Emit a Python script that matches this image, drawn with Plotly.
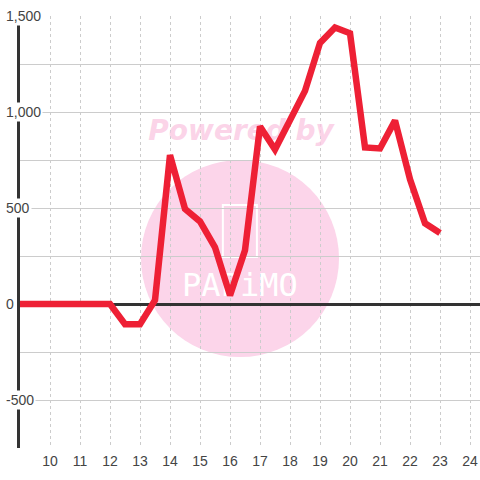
import plotly.graph_objects as go

# hourly values (half-hour steps)
hours = [9, 9.5, 10, 10.5, 11, 11.5, 12, 12.5, 13, 13.5, 14, 14.5, 15, 15.5,
         16, 16.5, 17, 17.5, 18, 18.5, 19, 19.5, 20, 20.5, 21, 21.5, 22, 22.5, 23]
values = [0, 0, 0, 0, 0, 0, 0, -105, -105, 20, 775, 495, 430, 295,
          45, 280, 925, 805, 950, 1110, 1360, 1440, 1410, 815, 810, 955, 650, 420, 370]

x_ticks = list(range(10, 25))
y_labels = [1500, 1000, 500, 0, -500]

fig = go.Figure()

# watermark (drawn under the line)
fig.add_shape(type='circle', xref='paper', yref='paper',
              x0=0.263, x1=0.6935, y0=0.2106, y1=0.6667,
              fillcolor='#fcd5ea', line=dict(width=0), layer='below')
fig.add_shape(type='rect', xref='paper', yref='paper',
              x0=0.441, x1=0.515, y0=0.442, y1=0.5625,
              line=dict(color='white', width=2), layer='below')
fig.add_trace(go.Scatter(x=[16.37], y=[890], mode='text', text=['<b><i>Powered by</i></b>'],
                         textposition='middle center', hoverinfo='skip', showlegend=False,
                         textfont=dict(family='DejaVu Sans', size=28, color='rgba(250,200,226,0.8)')))
fig.add_trace(go.Scatter(x=[16.33], y=[83], mode='text', text=['PAPiMO'],
                         textposition='middle center', hoverinfo='skip', showlegend=False,
                         textfont=dict(family='DejaVu Sans Mono', size=32, color='white')))

fig.add_trace(go.Scatter(x=hours, y=values, mode='lines',
                         line=dict(color='#ee2035', width=6.5),
                         hoverinfo='skip', showlegend=False))

# y tick labels sitting on the axis line
for v in y_labels:
    fig.add_annotation(text=f'{v:,}', xref='paper', yref='y', x=-0.035, y=v,
                       xanchor='left', showarrow=False, bgcolor='white', borderpad=1,
                       font=dict(family='Liberation Sans', size=14, color='#444'))

fig.update_layout(
    width=480, height=480,
    margin=dict(l=20, r=0, t=16, b=32),
    paper_bgcolor='white', plot_bgcolor='white',
    font=dict(family='Liberation Sans', size=14, color='#444'),
    xaxis=dict(range=[9, 24.333], tickvals=x_ticks, showgrid=True, automargin=False,
               gridcolor='#cccccc', gridwidth=1, griddash='3px,3px',
               zeroline=False, showline=False, ticks='', ticklabelstandoff=3),
    yaxis=dict(range=[-750, 1500], dtick=250, showticklabels=False, automargin=False,
               gridcolor='#cccccc', gridwidth=1,
               zeroline=True, zerolinecolor='#333', zerolinewidth=3,
               showline=True, linecolor='#333', linewidth=3, ticks=''),
)

# drop the default 8px body margin so the figure fills the window
fig.write_html("out.html", config={'displayModeBar': False},
               post_script="document.body.style.margin='0';")
